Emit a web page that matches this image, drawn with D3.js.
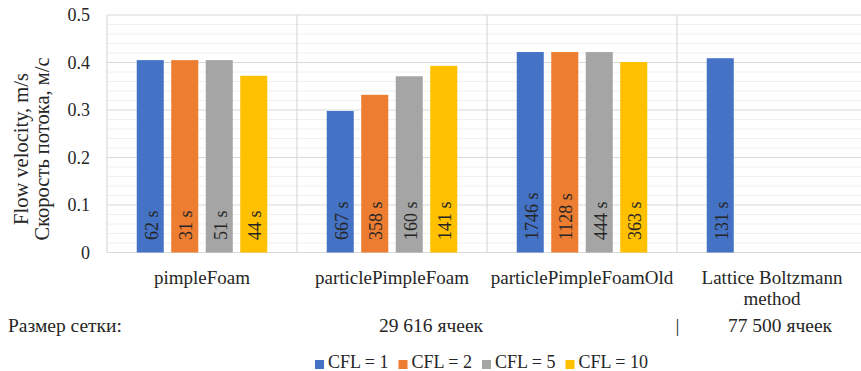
<!DOCTYPE html>
<html><head><meta charset="utf-8">
<script src="https://cdn.jsdelivr.net/npm/d3@7"></script>
<style>body{margin:0;background:#fff}svg{display:block}text{font-family:"Liberation Serif","Times New Roman",serif}</style>
</head><body>
<svg id="chart" width="861" height="371" font-family="Liberation Serif"></svg>
<script>
const categories = ["pimpleFoam", "particlePimpleFoam", "particlePimpleFoamOld", "Lattice Boltzmann\nmethod"];
const seriesNames = ["CFL = 1", "CFL = 2", "CFL = 5", "CFL = 10"];
const seriesColors = ["#4472C4", "#ED7D31", "#A5A5A5", "#FFC000"];
const cfl1 = [0.405, 0.298, 0.422, 0.409];
const cfl2 = [0.405, 0.332, 0.422, null];
const cfl5 = [0.405, 0.371, 0.422, null];
const cfl10 = [0.372, 0.393, 0.401, null];
const timeCfl1 = ["62 s", "667 s", "1746 s", "131 s"];
const timeCfl2 = ["31 s", "358 s", "1128 s", null];
const timeCfl5 = ["51 s", "160 s", "444 s", null];
const timeCfl10 = ["44 s", "141 s", "363 s", null];
const yTicks = [0, 0.1, 0.2, 0.3, 0.4, 0.5];
const yTitle = ["Flow velocity, m/s", "Скорость потока, м/с"];
const meshLabel = "Размер сетки:";
const meshA = "29 616 ячеек";
const meshB = "77 500 ячеек";

const values = [cfl1, cfl2, cfl5, cfl10];
const times = [timeCfl1, timeCfl2, timeCfl5, timeCfl10];
const FONT = "Liberation Serif";
const TXT = "#262626";

const svg = d3.select("#chart");
const L = 107, R = 867, T = 15, B = 252.5;
const x = d3.scaleBand().domain(categories).range([L, R]).paddingInner(0).paddingOuter(0);
const xs = d3.scaleBand().domain(seriesNames).range([0, x.bandwidth()]).paddingInner(0.217).paddingOuter(0.862);
const y = d3.scaleLinear().domain([0, 0.5]).range([B, T]);

// minor gridlines
const minor = d3.range(0, 0.5001, 0.02).filter(v => Math.abs(v*10 - Math.round(v*10)) > 1e-6);
svg.append("g").selectAll("line").data(minor).join("line")
  .attr("x1", L).attr("x2", R).attr("y1", d => y(d)).attr("y2", d => y(d))
  .attr("stroke", "#f0f0f0").attr("stroke-width", 1);
// major gridlines
svg.append("g").selectAll("line").data(yTicks.slice(1)).join("line")
  .attr("x1", L).attr("x2", R).attr("y1", d => y(d)).attr("y2", d => y(d))
  .attr("stroke", "#d9d9d9").attr("stroke-width", 1.2);
// vertical separators
svg.append("g").selectAll("line").data(categories).join("line")
  .attr("x1", d => x(d)).attr("x2", d => x(d)).attr("y1", T).attr("y2", B)
  .attr("stroke", "#d9d9d9").attr("stroke-width", 1.2);
// x axis baseline
svg.append("line").attr("x1", L).attr("x2", R).attr("y1", B).attr("y2", B)
  .attr("stroke", "#d9d9d9").attr("stroke-width", 1.2);

// y tick labels
const yAxis = d3.axisLeft(y).tickValues(yTicks).tickSize(0).tickPadding(17)
  .tickFormat(d => d === 0 ? "0" : d3.format(".1f")(d));
const ya = svg.append("g").attr("transform", `translate(${L},0)`).call(yAxis)
  .attr("font-family", FONT).attr("font-size", 18);
ya.select(".domain").remove();
ya.selectAll("text").attr("fill", TXT);

function txt(sel) { return sel.append("text").attr("font-family", FONT).attr("fill", TXT); }

// bars
const barData = [];
categories.forEach((c, ci) => {
  seriesNames.forEach((s, si) => {
    const v = values[si][ci];
    if (v != null) barData.push({c, s, si, v, t: times[si][ci]});
  });
});
const bars = svg.append("g");
bars.selectAll("rect").data(barData).join("rect")
  .attr("x", d => x(d.c) + xs(d.s)).attr("width", xs.bandwidth())
  .attr("y", d => y(d.v)).attr("height", d => y(0) - y(d.v))
  .attr("fill", d => seriesColors[d.si]);
bars.selectAll("text").data(barData).join("text")
  .attr("font-family", FONT).attr("fill", TXT)
  .attr("transform", d => `translate(${x(d.c) + xs(d.s) + xs.bandwidth()/2 + 1},240) rotate(-90)`)
  .attr("dy", "0.35em").attr("text-anchor", "start")
  .attr("font-size", 18).text(d => d.t);

// category labels
const cat = svg.append("g");
categories.forEach(c => {
  c.split("\n").forEach((ln, i) => {
    txt(cat).attr("x", x(c) + x.bandwidth()/2).attr("y", 284 + i*21)
      .attr("text-anchor", "middle").attr("font-size", 19).text(ln);
  });
});

// y title
yTitle.forEach((t, i) => {
  txt(svg).attr("transform", `translate(${28 + i*21},149) rotate(-90)`)
    .attr("text-anchor", "middle").attr("font-size", 20.5).text(t);
});

// mesh row
txt(svg).attr("x", 8).attr("y", 332).attr("font-size", 19.5).text(meshLabel);
txt(svg).attr("x", 431).attr("y", 332).attr("text-anchor", "middle").attr("font-size", 19.5).text(meshA);
txt(svg).attr("x", 677.5).attr("y", 332).attr("text-anchor", "middle").attr("font-size", 19.5)
  .attr("opacity", 0.99).text("|");
txt(svg).attr("x", 780).attr("y", 332).attr("text-anchor", "middle").attr("font-size", 19.5).text(meshB);

// legend
const lg = svg.append("g");
let cx = 0;
seriesNames.forEach((s, i) => {
  const g = lg.append("g").attr("transform", `translate(${cx},0)`);
  g.append("rect").attr("x", 0).attr("y", 360).attr("width", 9).attr("height", 9).attr("fill", seriesColors[i]);
  const t = txt(g).attr("x", 13).attr("y", 368).attr("font-size", 18).text(s);
  cx += 13 + t.node().getComputedTextLength() + 10;
});
lg.attr("transform", "translate(315,0)");
</script>
</body></html>
